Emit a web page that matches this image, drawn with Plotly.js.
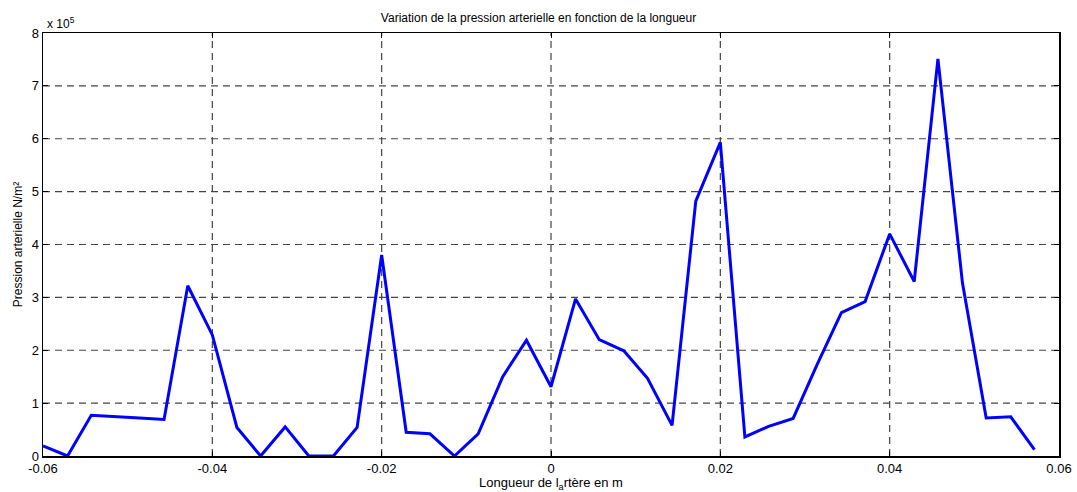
<!DOCTYPE html>
<html>
<head>
<meta charset="utf-8">
<script src="https://cdn.plot.ly/plotly-3.0.1.min.js"></script>
<style>html,body{margin:0;padding:0;background:#fff;}#chart{width:1077px;height:492px;}</style>
</head>
<body>
<div id="chart"></div>
<script>
// Longueur (m)
var longueur = [-0.0600,-0.0571,-0.0543,-0.0514,-0.0486,-0.0457,-0.0429,-0.0400,-0.0371,-0.0343,
                -0.0314,-0.0286,-0.0257,-0.0229,-0.0200,-0.0171,-0.0143,-0.0114,-0.0086,-0.0057,
                -0.0029,0.0000,0.0029,0.0057,0.0086,0.0114,0.0143,0.0171,0.0200,0.0229,
                0.0257,0.0286,0.0314,0.0343,0.0371,0.0400,0.0429,0.0457,0.0486,0.0514,
                0.0543,0.0571];
// Pression (x 10^5 N/m²)
var pression = [0.19,0.00,0.77,0.75,0.72,0.69,3.22,2.29,0.54,0.00,
                0.55,0.00,0.00,0.54,3.80,0.45,0.42,0.00,0.42,1.50,
                2.19,1.31,2.97,2.20,1.99,1.47,0.58,4.82,5.93,0.36,
                0.56,0.71,1.72,2.71,2.92,4.20,3.30,7.51,3.27,0.72,
                0.74,0.12];
var xTicks = [-0.06,-0.04,-0.02,0,0.02,0.04,0.06];
var xTickText = ['-0.06','-0.04','-0.02','0','0.02','0.04','0.06'];
var yTicks = [0,1,2,3,4,5,6,7,8];

var font = 'Liberation Sans, Arial, sans-serif';
var trace = {
  x: longueur, y: pression, type: 'scatter', mode: 'lines',
  line: {color: '#0000FF', width: 3}, hoverinfo: 'none'
};
var gridStyle = {
  showgrid: false, zeroline: false, showline: true, linecolor: '#000', linewidth: 1.5,
  mirror: 'ticks', ticks: 'inside', ticklen: 5, tickcolor: '#000', tickwidth: 1,
  tickfont: {family: font, size: 13, color: '#000'}
};
var layout = {
  width: 1077, height: 492,
  margin: {l: 43, r: 18, t: 33, b: 36},
  paper_bgcolor: '#fff', plot_bgcolor: '#fff',
  showlegend: false,
  title: {text: 'Variation de la pression arterielle en fonction de la longueur',
          font: {family: font, size: 12, color: '#000'}, x: 0.5, xanchor: 'center', y: 0.963, yanchor: 'middle'},
  xaxis: Object.assign({}, gridStyle, {
    range: [-0.06, 0.06], tickmode: 'array', tickvals: xTicks, ticktext: xTickText,
    ticklabelstandoff: 0,
    title: {text: 'Longueur de l<sub>a</sub>rtère en m', font: {family: font, size: 13, color: '#000'}, standoff: 0}
  }),
  yaxis: Object.assign({}, gridStyle, {
    range: [0, 8], tickmode: 'array', tickvals: yTicks, ticktext: yTicks.map(String),
    title: {text: 'Pression arterielle N/m²', font: {family: font, size: 12, color: '#000'}, standoff: 6}
  }),
  shapes: [],
  annotations: [{
    xref: 'paper', yref: 'paper', x: 0, y: 1, xanchor: 'left', yanchor: 'bottom', xshift: 2, yshift: 0,
    text: 'x 10<sup>5</sup>', showarrow: false, font: {family: font, size: 12, color: '#000'}
  }]
};
// dashed grid lines drawn at tick positions
xTicks.slice(1, -1).forEach(function (v) {
  layout.shapes.push({type: 'line', xref: 'x', yref: 'paper', x0: v, x1: v, y0: 0, y1: 1, layer: 'below',
    line: {color: '#444', width: 1.2, dash: '7px,5px'}});
});
yTicks.slice(1, -1).forEach(function (v) {
  layout.shapes.push({type: 'line', xref: 'paper', yref: 'y', x0: 0, x1: 1, y0: v, y1: v, layer: 'below',
    line: {color: '#444', width: 1.2, dash: '7px,5px'}});
});
Plotly.newPlot('chart', [trace], layout, {displayModeBar: false, staticPlot: true});
</script>
</body>
</html>
